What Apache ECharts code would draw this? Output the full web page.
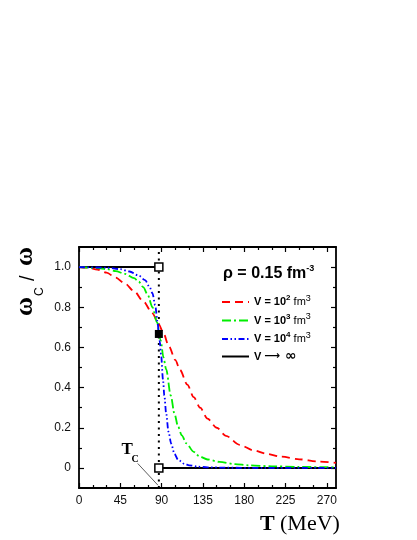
<!DOCTYPE html>
<html>
<head>
<meta charset="utf-8">
<script src="https://cdn.jsdelivr.net/npm/echarts@6/dist/echarts.min.js"></script>
<style>
html, body { margin:0; padding:0; background:#fff; }
#chart { width:417px; height:540px; }
</style>
</head>
<body>
<div id="chart"></div>
<script>
// V = 10^2 fm^3 (red dashed)
var tempV2  = [0, 10, 20, 30, 40, 50, 60, 70, 80, 87, 92, 98, 105, 110, 118, 125, 132, 140, 150, 160, 175, 190, 205, 220, 240, 260, 280];
var omegaV2 = [1.0, 0.997, 0.988, 0.972, 0.948, 0.918, 0.88, 0.83, 0.77, 0.715, 0.67, 0.605, 0.537, 0.488, 0.415, 0.352, 0.3, 0.245, 0.2, 0.16, 0.115, 0.088, 0.07, 0.056, 0.043, 0.032, 0.025];
// V = 10^3 fm^3 (green dash-dot)
var tempV3  = [0, 20, 30, 40, 50, 60, 65, 70, 75, 80, 85, 89, 92, 95, 100, 104, 108, 112, 117, 125, 131, 140, 153, 170, 185, 210, 240, 280];
var omegaV3 = [1.0, 0.995, 0.99, 0.98, 0.966, 0.945, 0.928, 0.9, 0.86, 0.8, 0.725, 0.635, 0.55, 0.49, 0.36, 0.27, 0.205, 0.162, 0.122, 0.08, 0.058, 0.042, 0.03, 0.019, 0.013, 0.008, 0.005, 0.003];
// V = 10^4 fm^3 (blue dash-dot-dot)
var tempV4  = [0, 30, 45, 55, 65, 72, 77, 80, 83, 85.5, 87, 88, 89.5, 91.5, 93, 95, 97.5, 100.5, 104, 108, 115, 120, 130, 140, 160, 200, 280];
var omegaV4 = [1.0, 0.997, 0.99, 0.978, 0.958, 0.935, 0.9, 0.87, 0.81, 0.73, 0.665, 0.63, 0.56, 0.44, 0.36, 0.27, 0.18, 0.12, 0.07, 0.04, 0.02, 0.013, 0.006, 0.003, 0.001, 0, 0];
// V -> infinity: step at Tc
var tc = 87;
var stepLow  = [[0, 1], [tc, 1]];
var stepHigh = [[tc, 0], [280, 0]];
var openMarks  = [[tc, 1], [tc, 0]];
var filledMark = [[tc, 0.667]];
var tcPointer  = [[64, 0.022], [86, -0.086]];

var xMajor = [0, 45, 90, 135, 180, 225, 270];
var xMinor = [15, 30, 60, 75, 105, 120, 150, 165, 195, 210, 240, 255];
var yMajor = [0, 0.2, 0.4, 0.6, 0.8, 1.0];
var yMinor = [0.1, 0.3, 0.5, 0.7, 0.9];

var names = ['V = 10² fm³', 'V = 10³ fm³', 'V = 10⁴ fm³', 'V → ∞'];
var legendText = {
    'V = 10² fm³': '{b|V = 10}{bs|2}{n| fm}{ns|3}',
    'V = 10³ fm³': '{b|V = 10}{bs|3}{n| fm}{ns|3}',
    'V = 10⁴ fm³': '{b|V = 10}{bs|4}{n| fm}{ns|3}',
    'V → ∞': '{b|V }{ar|⟶}{inf| ∞}'
};

function pairs(xs, ys) {
    return xs.map(function (x, i) { return [x, ys[i]]; });
}

var sans = 'Liberation Sans, Arial, sans-serif';
var serif = 'Liberation Serif, Times New Roman, serif';

function xAx(grid, pos, ticks, len, main) {
    return {
        type: 'value', gridIndex: grid, position: pos, min: 0, max: 280, interval: 45,
        axisLine: { show: main, onZero: false, lineStyle: { color: '#000', width: 1.8 } },
        axisTick: { show: true, inside: true, length: len, customValues: ticks, lineStyle: { color: '#000', width: 1.2 } },
        axisLabel: { show: main && pos === 'bottom', customValues: xMajor, margin: 7, color: '#111', fontSize: 12, fontFamily: sans },
        splitLine: { show: false }
    };
}
function yAx(grid, pos, ticks, len, main) {
    return {
        type: 'value', gridIndex: grid, position: pos, min: -0.1, max: 1.1, interval: 0.1,
        axisLine: { show: main, onZero: false, lineStyle: { color: '#000', width: 1.8 } },
        axisTick: { show: true, inside: true, length: len, customValues: ticks, lineStyle: { color: '#000', width: 1.2 } },
        axisLabel: {
            show: main && pos === 'left', customValues: yMajor, margin: 8, color: '#111', fontSize: 12, fontFamily: sans,
            formatter: function (v) { return Math.abs(v) < 1e-9 ? '0' : v.toFixed(1); }
        },
        splitLine: { show: false }
    };
}

function curve(name, xs, ys, color, dash) {
    return {
        name: name, type: 'line', data: pairs(xs, ys), symbol: 'none', showSymbol: false,
        smooth: 0.3, smoothMonotone: 'x', z: 3,
        itemStyle: { color: color },
        lineStyle: { color: color, width: 1.8, type: dash }
    };
}

var box = { left: 79, right: 81, top: 247, bottom: 52 };

var chart = echarts.init(document.getElementById('chart'));
chart.setOption({
    animation: false,
    backgroundColor: '#fff',
    grid: [box, box],
    xAxis: [xAx(0, 'bottom', xMajor, 5, true), xAx(0, 'top', xMajor, 5, true),
            xAx(1, 'bottom', xMinor, 3, false), xAx(1, 'top', xMinor, 3, false)],
    yAxis: [yAx(0, 'left', yMajor, 5, true), yAx(0, 'right', yMajor, 5, true),
            yAx(1, 'left', yMinor, 3, false), yAx(1, 'right', yMinor, 3, false)],
    legend: {
        data: names, orient: 'vertical', left: 221, top: 294, padding: 0,
        itemWidth: 27, itemHeight: 12, itemGap: 5, selectedMode: false,
        itemStyle: { opacity: 0, borderWidth: 0 },
        formatter: function (name) { return legendText[name]; },
        textStyle: {
            color: '#000', fontFamily: sans, fontSize: 11,
            rich: {
                b: { fontFamily: sans, fontWeight: 'bold', fontSize: 11, lineHeight: 16, color: '#000' },
                bs: { fontFamily: sans, fontWeight: 'bold', fontSize: 8, lineHeight: 10, verticalAlign: 'top', color: '#000' },
                n: { fontFamily: sans, fontSize: 11, lineHeight: 16, color: '#000' },
                ns: { fontFamily: sans, fontSize: 9, lineHeight: 10, verticalAlign: 'top', color: '#000' },
                ar: { fontFamily: 'DejaVu Sans', fontSize: 11, fontWeight: 'bold', lineHeight: 16, color: '#000' },
                inf: { fontFamily: 'DejaVu Sans', fontSize: 14, fontWeight: 'bold', lineHeight: 16, color: '#000' }
            }
        }
    },
    series: [
        curve(names[0], tempV2, omegaV2, '#ff0000', [8, 5]),
        curve(names[1], tempV3, omegaV3, '#00ee00', [9, 3, 2, 3]),
        curve(names[2], tempV4, omegaV4, '#0000ff', [6, 2.5, 1.5, 2.5, 1.5, 2.5]),
        { name: names[3], type: 'line', data: stepLow, symbol: 'none', z: 2,
          itemStyle: { color: '#000' }, lineStyle: { color: '#000', width: 2 } },
        { name: names[3], type: 'line', data: stepHigh, symbol: 'none', z: 2,
          itemStyle: { color: '#000' }, lineStyle: { color: '#000', width: 2 } },
        { name: 'Tc', type: 'line', data: [[tc, -0.1], [tc, 1.1]], symbol: 'none', z: 1,
          lineStyle: { color: '#000', width: 2, type: [2, 4.5] } },
        { name: 'pointer', type: 'line', data: tcPointer, symbol: 'none', z: 1,
          lineStyle: { color: '#333', width: 0.8 } },
        { name: 'open', type: 'scatter', data: openMarks, symbol: 'rect', symbolSize: 8, z: 5,
          itemStyle: { color: '#fff', borderColor: '#000', borderWidth: 1.5, opacity: 1 } },
        { name: 'crit', type: 'scatter', data: filledMark, symbol: 'rect', symbolSize: 8, z: 6,
          itemStyle: { color: '#000', opacity: 1 } }
    ],
    graphic: [
        { type: 'text', left: 223, top: 264,
          style: { text: '{b|ρ = 0.15 fm}{s|-3}', fill: '#000',
            rich: {
                b: { fontFamily: sans, fontWeight: 'bold', fontSize: 16, lineHeight: 20, color: '#000' },
                s: { fontFamily: sans, fontWeight: 'bold', fontSize: 9, lineHeight: 10, verticalAlign: 'top', color: '#000' }
            } } },
        { type: 'text', x: 260, y: 524.5,
          style: { text: 'T', font: 'bold 22px ' + serif, fill: '#000', align: 'left', verticalAlign: 'middle', textAlign: 'left', textVerticalAlign: 'middle' } },
        { type: 'text', x: 280, y: 524.5,
          style: { text: '(MeV)', font: '22px ' + serif, fill: '#000', align: 'left', verticalAlign: 'middle', textAlign: 'left', textVerticalAlign: 'middle' } },
        { type: 'text', x: 121.5, y: 449.5,
          style: { text: 'T', font: 'bold 17px ' + serif, fill: '#000', align: 'left', verticalAlign: 'middle', textAlign: 'left', textVerticalAlign: 'middle' } },
        { type: 'text', x: 131.5, y: 459.5,
          style: { text: 'C', font: 'bold 10px ' + serif, fill: '#000', align: 'left', verticalAlign: 'middle', textAlign: 'left', textVerticalAlign: 'middle' } },
        { type: 'group', x: 0, y: 316, rotation: Math.PI / 2,
          children: [
            { type: 'text', x: 0, y: 25,
              style: { text: 'ω', font: 'bold 26px ' + serif, fill: '#000', align: 'left', verticalAlign: 'middle', textAlign: 'left', textVerticalAlign: 'middle' } },
            { type: 'text', x: 20, y: 40,
              style: { text: 'C', font: '12px ' + sans, fill: '#000', align: 'left', verticalAlign: 'middle', textAlign: 'left', textVerticalAlign: 'middle' } },
            { type: 'text', x: 35, y: 28,
              style: { text: '/', font: '20px ' + sans, fill: '#000', align: 'left', verticalAlign: 'middle', textAlign: 'left', textVerticalAlign: 'middle' } },
            { type: 'text', x: 50, y: 25,
              style: { text: 'ω', font: 'bold 26px ' + serif, fill: '#000', align: 'left', verticalAlign: 'middle', textAlign: 'left', textVerticalAlign: 'middle' } }
          ] }
    ]
});
</script>
</body>
</html>
